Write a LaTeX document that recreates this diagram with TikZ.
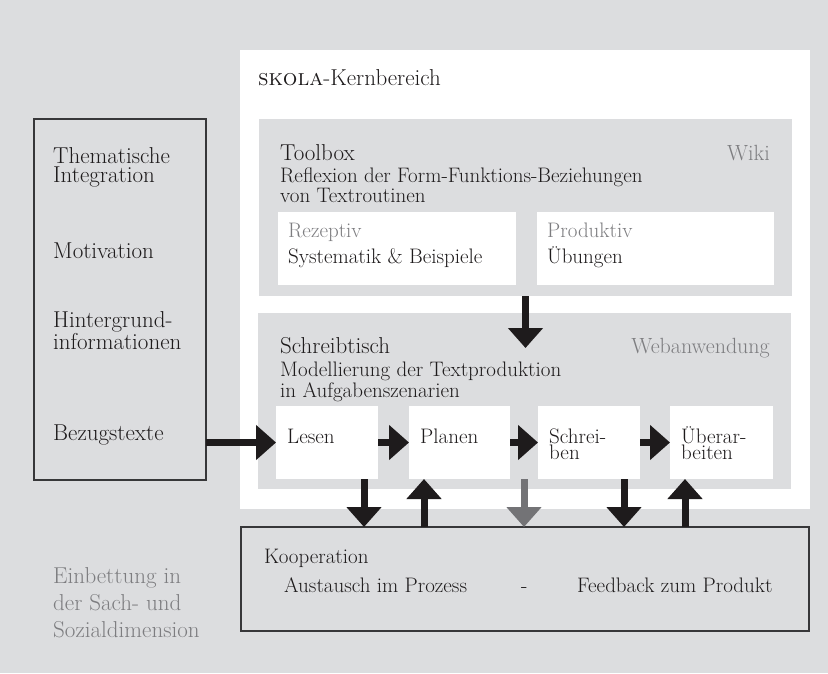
\documentclass[tikz,border=0pt]{standalone}
\usepackage{tikz}
\usetikzlibrary{arrows.meta,positioning}
\definecolor{paper}{RGB}{220,221,223}
\definecolor{ink}{RGB}{30,27,28}
\definecolor{softgray}{RGB}{125,125,128}
\definecolor{arrowgray}{RGB}{115,115,118}
\definecolor{framecol}{RGB}{55,55,57}

\begin{document}
\begin{tikzpicture}[
    x=1pt,y=-1pt,
    panel/.style={rectangle,anchor=north west,inner sep=0pt,outer sep=0pt},
    framed/.style={panel,draw=framecol,line width=1.4pt,fill=paper},
    txt/.style={anchor=base west,inner sep=0pt,align=left,text=ink,font=\fontsize{21}{18}\selectfont},
    bigtxt/.style={txt,font=\fontsize{23}{19}\selectfont},
    smalltxt/.style={txt,font=\fontsize{21}{15}\selectfont},
    steptxt/.style={txt,font=\fontsize{21}{16}\selectfont},
    note/.style={txt,text=softgray},
    bigarrow/.style={draw=ink,line width=7pt,-{Triangle[width=34pt,length=20pt]}}]
    \useasboundingbox[fill=paper] (0,0) rectangle (828,673);

    % Kernbereich
    \node[panel,fill=white,minimum width=570pt,minimum height=459pt] (core) at (240,50) {};
    \node[bigtxt] (kern) at (258,85) {\textsc{skola}-Kernbereich};

    % Toolbox
    \node[panel,fill=paper,minimum width=533pt,minimum height=177pt] (toolbox) at (259,119) {};
    \node[panel,fill=white,minimum width=238pt,minimum height=73pt] (rez) at (278,212) {};
    \node[panel,fill=white,minimum width=237pt,minimum height=73pt] (prod) at (537,212) {};
    \node[bigtxt] (tbtitle) at (280,160) {Toolbox};
    \node[note,anchor=base east,font=\fontsize{22}{18}\selectfont] (wiki) at (770,160) {Wiki};
    \node[smalltxt] (tbtext) at (280,202) {Reflexion der Form-Funktions-Beziehungen\\von Textroutinen};
    \node[note] (reztitle) at (288,237) {Rezeptiv};
    \node[txt] (reztext) at (288,263) {Systematik \& Beispiele};
    \node[note] (prodtitle) at (547,237) {Produktiv};
    \node[txt] (prodtext) at (547,263) {Übungen};

    % Schreibtisch
    \node[panel,fill=paper,minimum width=533pt,minimum height=176pt] (desk) at (258,313) {};
    \node[bigtxt] (desktitle) at (280,353) {Schreibtisch};
    \node[note,anchor=base east,font=\fontsize{22}{18}\selectfont] (web) at (770,353) {Webanwendung};
    \node[smalltxt] (desktext) at (280,397) {Modellierung der Textproduktion\\in Aufgabenszenarien};
    \node[panel,fill=white,minimum width=102pt,minimum height=73pt] (lesen) at (276,406) {};
    \node[panel,fill=white,minimum width=101pt,minimum height=73pt] (planen) at (409,406) {};
    \node[panel,fill=white,minimum width=102pt,minimum height=73pt] (schreiben) at (538,406) {};
    \node[panel,fill=white,minimum width=103pt,minimum height=73pt] (ueber) at (670,406) {};
    \node[txt] (lesentxt) at (287,443) {Lesen};
    \node[txt] (planentxt) at (420,443) {Planen};
    \node[steptxt] (schreibentxt) at (549,459) {Schrei-\\ben};
    \node[steptxt] (uebertxt) at (681,459) {Überar-\\beiten};

    % Kontext links
    \node[framed,minimum width=172pt,minimum height=361pt] (context) at (34,119) {};
    \node[bigtxt] (them) at (53,182) {Thematische\\Integration};
    \node[bigtxt] (motiv) at (53,258) {Motivation};
    \node[bigtxt] (hinter) at (53,349) {Hintergrund-\\informationen};
    \node[bigtxt] (bezug) at (53,440) {Bezugstexte};
    \node[note,font=\fontsize{23}{27}\selectfont] (einb) at (53,637) {Einbettung in\\der Sach- und\\Sozialdimension};

    % Kooperation
    \node[framed,minimum width=568pt,minimum height=104pt] (koop) at (241,527) {};
    \node[txt] (kooptitle) at (264,563) {Kooperation};
    \node[txt] (austausch) at (284,592) {Austausch im Prozess};
    \node[txt] (dash) at (521,592) {-};
    \node[txt] (feedback) at (577,592) {Feedback zum Produkt};

    \coordinate (tbtip) at (525.5,348);
    \draw[bigarrow] (toolbox.south) -- (tbtip);
    \draw[bigarrow] (context.east |- lesen.west) -- (lesen.west);
    \draw[bigarrow] (lesen.east) -- (planen.west);
    \draw[bigarrow] (planen.east) -- (schreiben.west);
    \draw[bigarrow] (schreiben.east) -- (ueber.west);
    \draw[bigarrow] ([xshift=-14pt]lesen.south east) -- ([xshift=-14pt]lesen.south east |- koop.north);
    \draw[bigarrow] ([xshift=15pt]planen.south west |- koop.north) -- ([xshift=15pt]planen.south west);
    \draw[bigarrow,draw=arrowgray] ([xshift=14pt]planen.south east) -- ([xshift=14pt]planen.south east |- koop.north);
    \draw[bigarrow] ([xshift=-16pt]schreiben.south east) -- ([xshift=-16pt]schreiben.south east |- koop.north);
    \draw[bigarrow] ([xshift=15pt]ueber.south west |- koop.north) -- ([xshift=15pt]ueber.south west);
\end{tikzpicture}
\end{document}
